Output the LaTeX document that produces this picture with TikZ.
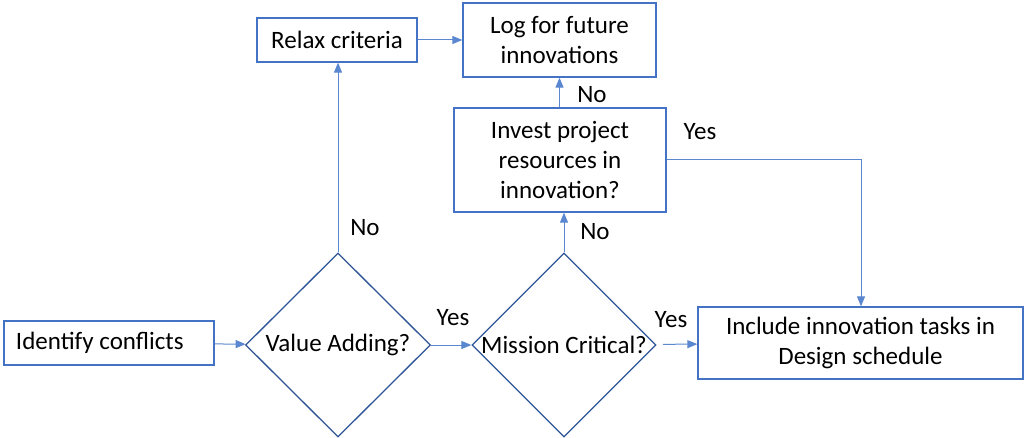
\documentclass[tikz,border=0pt]{standalone}
\usepackage{fontspec}
\setmainfont{Carlito}
\usepackage{tikz}
\usetikzlibrary{shapes.geometric,arrows.meta}
\usepackage{xcolor}
\definecolor{boxblue}{HTML}{4472C4}
\definecolor{diablue}{HTML}{2F5597}
\definecolor{lineblue}{HTML}{5B87D0}

\begin{document}
\begin{tikzpicture}[x=1pt,y=-1pt,
		font=\fontsize{25}{30}\selectfont,
		stepbox/.style={draw=boxblue, line width=1.3pt, align=center, inner sep=0pt},
		choice/.style={draw=diablue, line width=1.3pt, diamond, aspect=1, inner sep=0pt, align=center},
		flow/.style={draw=lineblue, line width=1pt, -{Triangle[length=10pt,width=8pt]}},
		lbl/.style={inner sep=0pt}]
		\useasboundingbox (0,0) rectangle (1024,438);
		% boxes
		\node[stepbox, minimum height=44, inner xsep=12, text width=186, align=flush left] (ident) at (109,343) {Identify conflicts};
		\node[stepbox, minimum width=160, minimum height=44] (relax) at (337,40) {Relax criteria};
		\node[stepbox, minimum width=193, minimum height=74] (log) at (559.5,40) {Log for future\\innovations};
		\node[stepbox, minimum width=212, minimum height=104] (invest) at (560,160) {Invest project\\resources in\\innovation?};
		\node[stepbox, minimum width=325, minimum height=72] (include) at (860.5,343) {Include innovation tasks in\\Design schedule};
		% decisions
		\node[choice, minimum width=185, minimum height=184] (value) at (338,345) {Value Adding?};
		\node[choice, minimum width=184, minimum height=184] (mission) at (564,345) {Mission Critical?};
		\coordinate (bend) at (861,160);
		% connectors
		\draw[flow] (ident) -- (value);
		\draw[flow] (value) -- (mission);
		\draw[flow, shorten <=7pt] (mission) -- (include);
		\draw[flow] (value.north) -- (value.north |- relax.south);
		\draw[flow] (mission.north) -- (mission.north |- invest.south);
		\draw[flow] (invest.north -| log.south) -- (log.south);
		\draw[flow] (relax) -- (log);
		\draw[flow] (invest.east) -- (bend) -- (bend |- include.north);
		% labels
		\node[lbl] (yes1) at (453,318) {Yes};
		\node[lbl] (yes2) at (671,320) {Yes};
		\node[lbl] (yes3) at (700,132) {Yes};
		\node[lbl] (no1) at (365,228) {No};
		\node[lbl] (no2) at (595,232) {No};
		\node[lbl] (no3) at (592,95) {No};
	\end{tikzpicture}
\end{document}
